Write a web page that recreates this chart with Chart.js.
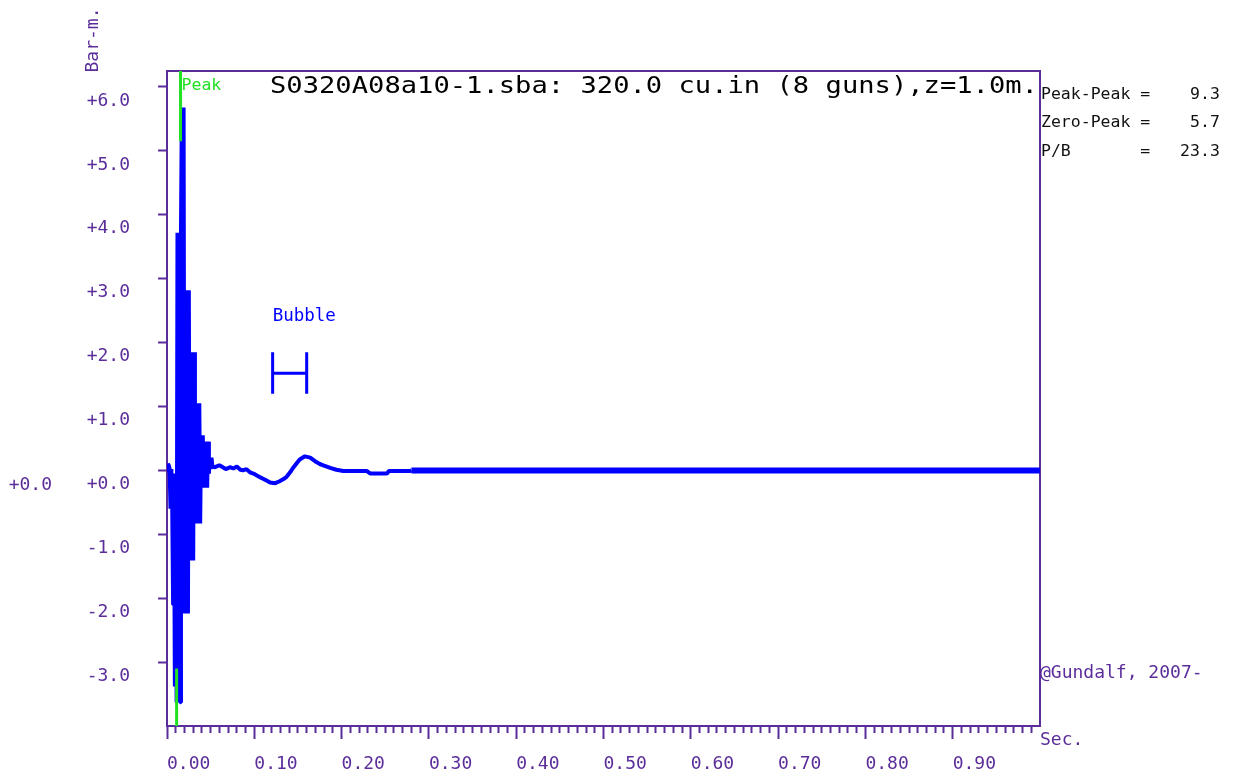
<!DOCTYPE html>
<html>
<head>
<meta charset="utf-8">
<script src="https://cdn.jsdelivr.net/npm/chart.js@4.4.0/dist/chart.umd.min.js"></script>
<style>
  body { margin: 0; background: #fff; }
</style>
</head>
<body>
<canvas id="myChart" width="1234" height="774"></canvas>
<script>
const ctx = document.getElementById('myChart');

// signature, seconds / bar-m
var waveTime = [
  0.000, 0.001, 0.002, 0.003, 0.004, 0.005, 0.006, 0.007, 0.008, 0.009,
  0.010, 0.011, 0.012, 0.013, 0.014, 0.015, 0.016, 0.017, 0.018, 0.019,
  0.020, 0.021, 0.022, 0.023, 0.024, 0.025, 0.026, 0.027, 0.028, 0.029,
  0.030, 0.031, 0.032, 0.033, 0.034, 0.035, 0.036, 0.037, 0.038, 0.039,
  0.040, 0.041, 0.042, 0.043, 0.044, 0.045, 0.046, 0.047, 0.048, 0.049,
  0.050, 0.051, 0.052,
  0.055, 0.060, 0.065, 0.068, 0.072, 0.076, 0.080, 0.084, 0.087, 0.091,
  0.095, 0.099, 0.103, 0.107, 0.110, 0.114, 0.118, 0.124, 0.129, 0.133,
  0.137, 0.141, 0.145, 0.149, 0.152, 0.158, 0.164, 0.168, 0.171, 0.175,
  0.179, 0.183, 0.187, 0.194, 0.202, 0.215, 0.229, 0.233, 0.252, 0.254,
  0.278, 0.280
]
var waveValue = [
  0.00, 0.10, 0.08, 0.03, -0.60, 0.02, -0.60, -2.10, -0.05, -3.38,
  -0.20, -3.63, 3.72, -3.63, 3.72, -3.63, 3.72, 5.68, -1.10, 5.68,
  -2.24, 2.82, -2.24, 2.82, -2.24, 2.82, -1.41, 1.85, -1.41, 1.85,
  -1.41, 1.85, -0.62, 1.05, -0.83, 1.05, -0.83, 1.05, -0.83, 0.55,
  -0.27, 0.55, -0.27, 0.45, -0.27, 0.45, -0.27, 0.45, -0.05, 0.20,
  0.02, 0.20, 0.06,
  0.05, 0.08, 0.04, 0.02, 0.05, 0.03, 0.06, 0.01, 0.00, 0.02,
  -0.03, -0.05, -0.08, -0.11, -0.13, -0.16, -0.19, -0.20, -0.17, -0.14,
  -0.10, -0.03, 0.05, 0.12, 0.17, 0.22, 0.20, 0.16, 0.13, 0.10,
  0.08, 0.06, 0.04, 0.01, -0.01, -0.01, -0.01, -0.05, -0.05, -0.01,
  -0.01, 0.00
]
// flat tail after the bubble has died out
var tailTime = [0.280, 1.000]
var tailValue = [0.00, 0.00]

// green peak markers (x, from, to)
var peakX = [0.0155, 0.011]
var peakFrom = [6.25, -4.0]
var peakTo = [5.15, -3.1]

// bubble period marker
var bubbleX = [0.121, 0.160]
var bubbleY = [1.20, 1.52, 1.85]

var yTickValues = [-3, -2, -1, 0, 1, 2, 3, 4, 5, 6]
var yTickLabels = ['-3.0', '-2.0', '-1.0', '+0.0', '+1.0', '+2.0', '+3.0', '+4.0', '+5.0', '+6.0']
var xTickLabels = ['0.00', '0.10', '0.20', '0.30', '0.40', '0.50', '0.60', '0.70', '0.80', '0.90']

var titleText = 'S0320A08a10-1.sba: 320.0 cu.in (8 guns),z=1.0m.'
var statLines = ['Peak-Peak =    9.3', 'Zero-Peak =    5.7', 'P/B       =   23.3']

const purple = '#5b2d9a'
const blue = '#0000ff'
const green = '#22e022'
const mono = '"DejaVu Sans Mono", monospace'

// minor ticks every 0.01 s, labelled every 0.1
var xTickValues = []
for (var i = 0; i < 100; i++) xTickValues.push(i / 100)

function pts(xs, ys) {
  return xs.map((x, i) => ({ x: x, y: ys[i] }))
}

var bubbleData = [
  { x: bubbleX[0], y: bubbleY[0] }, { x: bubbleX[0], y: bubbleY[2] }, { x: bubbleX[0], y: null },
  { x: bubbleX[0], y: bubbleY[1] }, { x: bubbleX[1], y: bubbleY[1] }, { x: bubbleX[1], y: null },
  { x: bubbleX[1], y: bubbleY[0] }, { x: bubbleX[1], y: bubbleY[2] }
]

// frame + the loose texts round the plot
const framePlugin = {
  id: 'frame',
  beforeDatasetsDraw(chart) {
    const c = chart.ctx, a = chart.chartArea
    c.save()
    c.strokeStyle = purple
    c.lineWidth = 2
    c.strokeRect(a.left, a.top, a.right - a.left, a.bottom - a.top)
    c.restore()
  },
  afterDraw(chart) {
    const c = chart.ctx, a = chart.chartArea
    const xs = chart.scales.x, ys = chart.scales.y
    c.save()
    c.textBaseline = 'alphabetic'

    // title, stretched like the old bitmap font
    c.fillStyle = '#000'
    c.font = '23px ' + mono
    c.save()
    c.translate(270, 93)
    c.scale(1.18, 1)
    c.fillText(titleText, 0, 0)
    c.restore()

    // stats box at the right
    c.fillStyle = '#111'
    c.font = '16.5px ' + mono
    statLines.forEach((s, i) => c.fillText(s, a.right + 1, 98.5 + i * 28.7))

    c.fillStyle = purple
    c.font = '18px ' + mono
    c.fillText('@Gundalf, 2007-', a.right, 678)
    c.fillText('Sec.', a.right, 745)
    c.textAlign = 'right'
    c.fillText('+0.0', 52, ys.getPixelForValue(0) + 20)

    // unit, vertical
    c.save()
    c.translate(98, 40)
    c.rotate(-Math.PI / 2)
    c.textAlign = 'center'
    c.fillText('Bar-m.', 0, 0)
    c.restore()

    c.textAlign = 'left'
    c.fillStyle = green
    c.font = '16.5px ' + mono
    c.fillText('Peak', xs.getPixelForValue(peakX[0]) + 1, 90)

    c.fillStyle = blue
    c.font = '17.5px ' + mono
    c.fillText('Bubble', xs.getPixelForValue(bubbleX[0]), ys.getPixelForValue(bubbleY[2]) - 31)
    c.restore()
  }
}

new Chart(ctx, {
  type: 'line',
  data: {
    datasets: [
      {
        label: 'peak+',
        data: [{ x: peakX[0], y: peakFrom[0] }, { x: peakX[0], y: peakTo[0] }],
        borderColor: green, borderWidth: 3, pointRadius: 0
      },
      {
        label: 'peak-',
        data: [{ x: peakX[1], y: peakFrom[1] }, { x: peakX[1], y: peakTo[1] }],
        borderColor: green, borderWidth: 3, pointRadius: 0
      },
      {
        label: 'signature',
        data: pts(waveTime, waveValue),
        borderColor: blue, borderWidth: 4, pointRadius: 0,
        borderJoinStyle: 'bevel', tension: 0
      },
      {
        label: 'tail',
        data: pts(tailTime, tailValue),
        borderColor: blue, borderWidth: 6, pointRadius: 0
      },
      {
        label: 'bubble',
        data: bubbleData,
        borderColor: blue, borderWidth: 3, pointRadius: 0, spanGaps: false
      }
    ]
  },
  options: {
    responsive: false,
    animation: false,
    layout: { padding: { left: 0, top: 71, right: 194, bottom: 0 } },
    plugins: {
      legend: { display: false },
      tooltip: { enabled: false }
    },
    scales: {
      x: {
        type: 'linear',
        min: 0,
        max: 1,
        afterFit: s => { s.height = 48 },
        afterBuildTicks: s => { s.ticks = xTickValues.map(v => ({ value: v })) },
        border: { display: false },
        grid: {
          drawOnChartArea: false,
          tickLength: 13,
          tickWidth: 2,
          tickColor: purple,
          tickBorderDash: c => (c.index % 10 === 0 ? [] : [7, 30])
        },
        ticks: {
          autoSkip: false,
          maxRotation: 0,
          align: 'start',
          padding: 15,
          color: purple,
          font: { family: mono, size: 18 },
          callback: (v, i) => (i % 10 === 0 ? xTickLabels[i / 10] : '')
        }
      },
      y: {
        type: 'linear',
        min: -4,
        max: 6.25,
        afterFit: s => { s.width = 167 },
        afterBuildTicks: s => { s.ticks = yTickValues.map(v => ({ value: v })) },
        border: { display: false },
        grid: {
          drawOnChartArea: false,
          tickLength: 9,
          tickWidth: 2,
          tickColor: purple
        },
        ticks: {
          padding: 28,
          labelOffset: 14,
          color: purple,
          font: { family: mono, size: 18 },
          callback: (v, i) => yTickLabels[i]
        }
      }
    }
  },
  plugins: [framePlugin]
});
</script>
</body>
</html>
